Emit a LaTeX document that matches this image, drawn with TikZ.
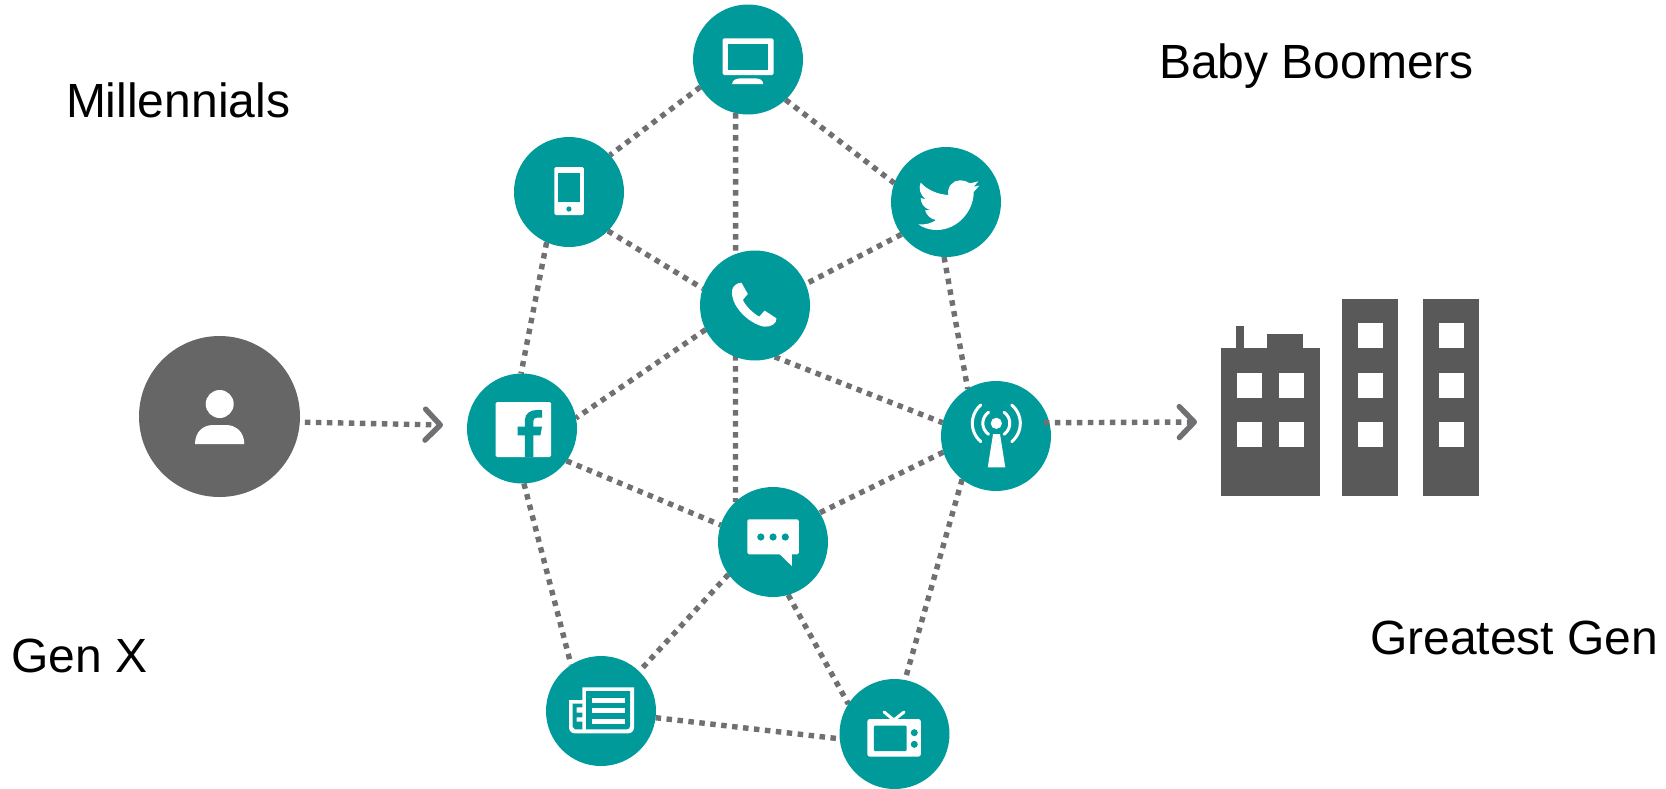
\documentclass[tikz,border=0pt]{standalone}
\usepackage{fontspec}
\setmainfont{Liberation Sans}
\usetikzlibrary{backgrounds,arrows.meta}
\definecolor{tealc}{HTML}{009A9A}
\definecolor{persong}{HTML}{666666}
\definecolor{cityg}{HTML}{595959}
\definecolor{dotg}{HTML}{707072}
\tikzset{
  hub/.style={circle,fill=tealc,minimum size=110pt,inner sep=0pt,outer sep=0pt},
  personc/.style={circle,fill=persong,minimum size=161pt,inner sep=0pt,outer sep=0pt},
  link/.style={draw=dotg,line width=5.4pt,dash pattern=on 5.5pt off 5.5pt},
  flow/.style={link,-{Straight Barb[length=15pt,width=31pt,line width=5.4pt,round]}},
  label/.style={inner sep=0pt,outer sep=0pt,anchor=base west,font=\fontsize{48}{52}\selectfont,text=black},
  zoneA/.style={shift={(480,0)},x=0.35714pt,y=-0.33333pt},
  zoneB/.style={shift={(440,370)},x=0.40816pt,y=-0.33333pt},
  zoneC/.style={shift={(560,670)},x=0.33333pt,y=-0.33333pt},
  zoneD/.style={shift={(880,160)},x=0.33333pt,y=-0.33333pt},
  icon/.style={fill=white},
  hole/.style={fill=tealc},
  tower/.style={fill=cityg},
  wave/.style={draw=white,line width=3pt,line cap=round}
}
\begin{document}
\begin{tikzpicture}[x=1pt,y=-1pt]
\useasboundingbox (0,0) rectangle (1666,788);
% hubs
\node[hub] (monitor) at (748,59.5) {};
\node[hub] (phone) at (569,192) {};
\node[hub] (twitter) at (946,202) {};
\node[hub] (call) at (755,305.5) {};
\node[hub] (fb) at (522,428.5) {};
\node[hub] (antenna) at (996,436) {};
\node[hub] (chat) at (773,542) {};
\node[hub] (news) at (601,711) {};
\node[hub] (tv) at (894.5,734) {};
\node[personc] (person) at (219.5,416.5) {};
% links behind the hubs
\begin{scope}[on background layer]
\draw[link] (monitor.210) -- (phone.42);
\draw[link] (monitor.-47) -- (twitter.160);
\draw[link] (phone.-45) -- (call.162);
\draw[link] (twitter.216) -- (call.23);
\draw[link] (call.206) -- (fb.11);
\draw[link] (call.-69) -- (antenna.166);
\draw[link] (phone.246) -- (fb.91);
\draw[link] (twitter.268) -- (antenna.121.5);
\draw[link] (fb.-36) -- (chat.162.5);
\draw[link] (antenna.197.5) -- (chat.32.5);
\draw[link] (chat.216) -- (news.46.5);
\draw[link] (chat.-74) -- (tv.147);
\draw[link] (news.-7) -- (tv.185);
\draw[link] (fb.-88) -- (news.123);
\draw[link] (antenna.232) -- (tv.79.5);
\draw[link] (monitor.-103.7) -- (chat.133.7);
\end{scope}
% flow arrows
\coordinate (fbin) at (443,425);
\coordinate (cityin) at (1197,422);
\draw[flow,shorten <=5pt] (person.-4.5) -- (fbin);
\draw[flow,shorten <=-5.4pt] (antenna.14.5) -- (cityin);
% person
\fill[icon] (219.7,404) circle[radius=14pt];
\fill[icon] (195,444) -- (244.3,444) .. controls (244.3,432) and (236,425) .. (226,425) -- (213,425) .. controls (203,425) and (195,432) .. (195,444) -- cycle;
% city
\fill[tower] (1221,348) rectangle (1320,496);
\fill[tower] (1236,326) rectangle (1244,348);
\fill[tower] (1267,334) rectangle (1303,348);
\fill[tower] (1342,299) rectangle (1398,496);
\fill[tower] (1423,299) rectangle (1479,496);
\foreach \wx/\wy in {1237/373,1279/373,1237/422,1279/422,1358/323,1358/373,1358/422,1439/323,1439/373,1439/422}
  \fill[icon] (\wx,\wy) rectangle +(24.5,24.5);
% monitor, phone, handset
\begin{scope}[zoneA]
\fill[icon,rounded corners=1.5pt] (679,115) rectangle (822,225);
\fill[hole] (693,131) rectangle (807,209);
\fill[icon] (706,252) .. controls (706,240) and (718,235) .. (730,235) -- (770,235) .. controls (783,235) and (793,240) .. (793,252) -- cycle;
\fill[icon,rounded corners=1.5pt] (208,501) rectangle (291,645);
\fill[hole] (218,518) rectangle (281,606);
\fill[hole] (249,627) circle[radius=2.6pt];
\fill[icon] (732,848) -- (750,882) .. controls (748,888) and (738,892) .. (736,900) .. controls (745,920) and (765,940) .. (782,950) .. controls (788,945) and (792,935) .. (797,932) -- (830,955) .. controls (832,970) and (815,982) .. (795,980) .. controls (750,970) and (700,915) .. (706,870) .. controls (708,858) and (720,848) .. (732,848) -- cycle;
\end{scope}
% bird
\begin{scope}[zoneD]
\fill[icon] (122,68) .. controls (140,88) and (170,103) .. (205,105)
  .. controls (200,80) and (220,60) .. (240,61)
  .. controls (252,61) and (262,65) .. (270,70)
  -- (295,64) -- (281,80) -- (298,77) -- (281,96)
  .. controls (282,150) and (235,210) .. (170,210)
  .. controls (150,210) and (130,204) .. (115,193)
  .. controls (135,195) and (155,190) .. (168,180)
  .. controls (152,178) and (140,165) .. (135,151)
  -- (150,150) .. controls (133,145) and (122,130) .. (122,114)
  -- (138,118) .. controls (120,105) and (115,85) .. (122,68) -- cycle;
\end{scope}
% facebook, antenna, chat, tv
\begin{scope}[zoneB]
\fill[icon,rounded corners=1.5pt] (136,96) rectangle (272,261);
\fill[hole] (208,261) -- (208,196) -- (190,196) -- (190,170) -- (208,170) -- (208,150) .. controls (208,130) and (222,120) .. (238,120) -- (250,120) -- (250,143) -- (238,143) .. controls (232,143) and (229,146) .. (229,152) -- (229,170) -- (250,170) -- (246,196) -- (229,196) -- (229,261) -- cycle;
\fill[icon] (1363,160) circle[radius=5.6pt];
\fill[icon] (1355,192) -- (1372,192) -- (1385,292) -- (1342,292) -- cycle;
\fill[icon,rounded corners=1.5pt] (753,448) rectangle (879,553);
\fill[icon] (830,550) -- (862,588) -- (862,550) -- cycle;
\foreach \dx in {786,816,846} \fill[hole] (\dx,501) circle[radius=3.6pt];
\fill[icon,rounded corners=2.5pt] (1047,1047) rectangle (1178,1160);
\fill[hole,rounded corners=1pt] (1063,1067) rectangle (1143,1143);
\fill[hole] (1162,1088) circle[radius=3.5pt];
\fill[hole] (1162,1123) circle[radius=3.5pt];
\draw[wave] (1088,1026) -- (1112,1050) -- (1137,1026);
\end{scope}
% antenna waves
\draw[wave] (996.3,423.3) ++(125:13.5) arc[start angle=125,end angle=235,radius=13.5];
\draw[wave] (996.3,423.3) ++(55:13.5) arc[start angle=55,end angle=-55,radius=13.5];
\draw[wave] (996.3,423.3) ++(130:24) arc[start angle=130,end angle=230,radius=24];
\draw[wave] (996.3,423.3) ++(50:24) arc[start angle=50,end angle=-50,radius=24];
% newspaper
\begin{scope}[zoneC]
\fill[icon] (27,90) -- (67,90) -- (67,52) -- (222,52) -- (222,172) .. controls (222,183) and (214,190) .. (204,190) -- (45,190) .. controls (35,190) and (27,183) .. (27,172) -- cycle;
\fill[hole] (78,63) -- (210,63) -- (210,168) .. controls (210,175) and (206,178) .. (200,178) -- (78,178) -- cycle;
\fill[hole] (38,101) -- (67,101) -- (67,112) -- (50,112) -- (50,128) -- (67,128) -- (67,142) -- (50,142) -- (50,155) -- (67,155) -- (67,178) -- (45,178) -- (38,170) -- cycle;
\fill[icon] (95,84) rectangle (195,99);
\fill[icon] (95,114) rectangle (195,129);
\fill[icon] (95,147) rectangle (195,162);
\end{scope}
% labels
\node[label] (millennials) at (66,117) {Millennials};
\node[label] (boomers) at (1159,78) {Baby Boomers};
\node[label] (genx) at (11,672) {Gen X};
\node[label] (greatest) at (1370,654) {Greatest Gen};
\end{tikzpicture}
\end{document}
